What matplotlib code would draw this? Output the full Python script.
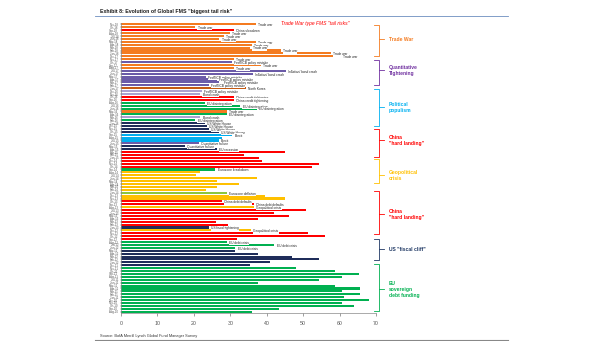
import matplotlib
matplotlib.use("Agg")
import matplotlib.pyplot as plt
import pandas as pd
from matplotlib.lines import Line2D

plt.rcParams['font.family'] = ['Liberation Sans', 'DejaVu Sans']

# months, most recent at the top
months = [d.strftime('%b-%y') for d in pd.date_range('2010-08-01', '2018-11-01', freq='MS')][::-1]

# category of the "biggest tail risk" for each month (top to bottom)
risk_category = (
    ['trade', 'trade', 'china', 'trade', 'trade', 'trade', 'trade', 'trade', 'trade', 'trade',
     'trade', 'trade', 'trade', 'qt', 'trade', 'trade', 'qt', 'qt', 'qt', 'qt',
     'qt', 'qt', 'nk', 'bond', 'bond', 'china', 'china', 'eu', 'eu', 'eu',
     'trade', 'eu', 'bond', 'eu', 'us', 'us', 'us', 'us', 'brexit', 'brexit',
     'brexit', 'qt', 'us', 'us', 'china', 'china', 'china', 'china', 'china', 'china',
     'eu', 'geo', 'geo', 'geo', 'geo', 'geo', 'geo', 'geo', 'defl', 'geo',
     'geo', 'china', 'china', 'geo', 'china', 'china', 'china', 'china', 'china', 'china',
     'us', 'geo', 'china', 'china', 'china', 'eu', 'eu', 'eu', 'us', 'us',
     'us', 'us', 'us', 'us'] + ['eu'] * 16
)

# % of FMS respondents naming it
risk_values = [
    37.1, 20.4, 30.9, 30.0, 28.2, 27.0, 37.1, 36.0, 35.5, 43.8,
    57.6, 60.3, 30.9, 30.5, 38.3, 30.9, 45.2, 36.3, 23.4, 26.4,
    27.7, 24.1, 34.2, 22.2, 21.8, 31.1, 31.1, 23.1, 32.8, 37.4,
    29.1, 29.1, 21.8, 20.4, 23.1, 23.6, 24.1, 26.8, 30.5, 27.7,
    26.8, 21.3, 17.6, 26.4, 45.0, 33.7, 37.8, 38.8, 54.4, 52.3,
    25.9, 21.8, 20.7, 37.4, 26.4, 32.3, 26.4, 23.3, 29.1, 39.4,
    45.0, 27.7, 36.5, 36.5, 50.9, 42.1, 46.1, 37.6, 26.1, 29.3,
    24.1, 35.7, 51.3, 55.9, 31.9, 29.1, 42.1, 31.4, 31.4, 37.6,
    47.0, 54.4, 41.0, 35.3, 48.1, 58.8, 65.2, 60.8, 54.4, 37.6,
    58.8, 65.6, 60.8, 65.6, 61.1, 68.1, 60.6, 64.0, 43.5, 36.0,
]

risk_labels = (
    ['Trade war', 'Trade war', 'China slowdown', 'Trade war', 'Trade war', 'Trade war',
     'Trade war', 'Trade war', 'Trade war', 'Trade war', 'Trade war', 'Trade war',
     'Trade war', 'Fed/ECB policy mistake', 'Trade war', 'Trade war',
     'Inflation/ bond crash', 'Inflation/ bond crash', 'Fed/ECB policy mistake',
     'Fed/ECB policy mistake', 'Fed/ECB policy mistake', 'Fed/ECB policy mistake',
     'North Korea', 'Fed/ECB policy mistake', 'Bond crash', 'China credit tightening',
     'China credit tightening', 'EU disintegration', 'EU disintegration', 'EU disintegration',
     'Trade war', 'EU disintegration', 'Bond crash', 'EU disintegration',
     'US White House', 'US White House', 'US White House', 'US White House',
     'Brexit', '', 'Brexit', 'Quantitative failure', 'Quantitative failure', 'EU recession',
     '', '', '', '', '', '', 'Eurozone breakdown', '', '', '', '', '', '', '',
     'Eurozone deflation', '', '', 'China debt defaults', 'China debt defaults',
     'Geopolitical crisis', '', '', '', '', '', '', 'US fiscal tightening',
     'Geopolitical crisis', '', '', '', 'EU debt crisis', 'EU debt crisis', 'EU debt crisis']
    + [''] * 22
)

# right-hand brackets: (first bar, last bar, label row, text)
group_start = [0.2, 12.1, 22.1, 35.9, 46.5, 57.5, 74.1, 82.4]
group_end = [10.9, 20.9, 35.0, 45.6, 54.8, 72.1, 81.3, 98.8]
group_mid = [5.1, 15.8, 28.5, 40.0, 52.0, 65.4, 77.5, 91.3]
group_text = ['Trade War', 'Quantitative\nTightening', 'Political\npopulism',
              'China\n"hard landing"', 'Geopolitical\ncrisis', 'China\n"hard landing"',
              'US "fiscal cliff"', 'EU\nsovereign\ndebt funding']
group_color = ['#F47B20', '#7030A0', '#00B0F0', '#FF0000', '#FFC000', '#FF0000',
               '#1F3864', '#00B050']

palette = {
    'trade': '#F47B20', 'china': '#FF0000', 'qt': '#6B5BA8', 'bond': '#ABA2D2',
    'nk': '#C55A11', 'eu': '#00B050', 'us': '#1F2D5A', 'brexit': '#00AEEF',
    'geo': '#FFC000', 'defl': '#8CC63F',
}

fig = plt.figure(figsize=(6.05, 3.41), dpi=100)
ax = fig.add_axes([0.2, 0.0817, 0.4215, 0.851])

ypos = list(range(len(risk_values)))
ax.barh(ypos, risk_values, height=0.72,
        color=[palette[c] for c in risk_category], zorder=2)

for y, v, lab in zip(ypos, risk_values, risk_labels):
    if lab:
        ax.text(v + 0.6, y + 0.3, lab, fontsize=2.3, va='center', ha='left', color='#222222',
                bbox=dict(facecolor='white', edgecolor='none', pad=0.15), zorder=3)

ax.set_ylim(len(risk_values) - 0.5, -0.5)
ax.set_xlim(0, 70)
ax.set_yticks(ypos)
ax.set_yticklabels(months, fontsize=2.0, color='#444444')
ax.set_xticks(range(0, 71, 10))
ax.tick_params(axis='x', labelsize=3.8, colors='#555555', length=2, width=0.4)
ax.tick_params(axis='y', length=1, width=0.3, pad=1, colors='#555555')
for side in ('top', 'right'):
    ax.spines[side].set_visible(False)
for side in ('left', 'bottom'):
    ax.spines[side].set_linewidth(0.5)
    ax.spines[side].set_color('#888888')

# curly-ish brackets on the right
for s, e, m, txt, col in zip(group_start, group_end, group_mid, group_text, group_color):
    xs = [69.4, 70.8, 70.8, 69.4]
    ys = [s, s, e, e]
    ax.add_line(Line2D(xs, ys, color=col, lw=0.6, clip_on=False))
    ax.add_line(Line2D([70.8, 72.2], [m, m], color=col, lw=0.6, clip_on=False))
    ax.text(73.6, m, txt, fontsize=3.6, color=col, fontweight='bold',
            va='center', ha='left', clip_on=False, linespacing=1.3)

ax.text(43.8, -0.2, 'Trade War type FMS "tail risks"', fontsize=3.6, color='#FF0000',
        fontstyle='italic', va='center', ha='left')

fig.text(0.165, 0.966, 'Exhibit 8: Evolution of Global FMS "biggest tail risk"',
         fontsize=3.8, fontweight='bold', color='#1a1a1a', va='center', ha='left')
fig.add_artist(Line2D([0.157, 0.84], [0.954, 0.954], color='#6C8EBF', lw=0.6))
fig.text(0.165, 0.015, 'Source: BofA Merrill Lynch Global Fund Manager Survey',
         fontsize=2.8, color='#333333', va='center', ha='left')
fig.add_artist(Line2D([0.157, 0.84], [0.004, 0.004], color='#888888', lw=0.8))

fig.savefig('out.png', dpi=100)
